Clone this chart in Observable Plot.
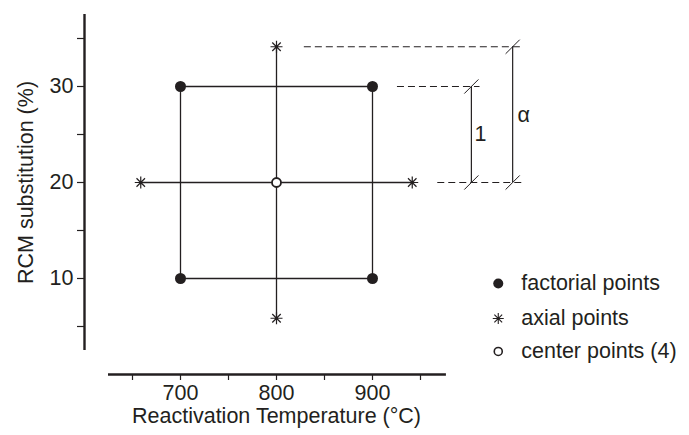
<!DOCTYPE html>
<html>
<head>
<meta charset="utf-8">
<script src="https://cdn.jsdelivr.net/npm/d3@7"></script>
<script src="https://cdn.jsdelivr.net/npm/@observablehq/plot@0.6"></script>
<style>
  html, body { margin: 0; padding: 0; background: #fff; }
  #chart svg { display: block; font-family: "Liberation Sans", Arial, sans-serif; }
</style>
</head>
<body>
<div id="chart"></div>
<script>
// ---- data ----
const factorialX = [700, 700, 900, 900];
const factorialY = [10, 30, 10, 30];
const axialX = [658.6, 941.4, 800, 800];
const axialY = [20, 20, 5.86, 34.14];
const centerX = [800];
const centerY = [20];
const squareX = [700, 900, 900, 700, 700];
const squareY = [10, 10, 30, 30, 10];
const xTicks = [650, 700, 750, 800, 850, 900, 950];
const xTickLabels = [700, 800, 900];
const yTicks = [5, 10, 15, 20, 25, 30, 35];
const yTickLabels = [10, 20, 30];
const dimLabels = ["1", "α"];
const dimFrom = [20, 20];
const dimTo = [30, 34.14];
const legendLabels = ["factorial points", "axial points", "center points (4)"];
const xTitle = "Reactivation Temperature (°C)";
const yTitle = "RCM substitution (%)";

// ---- layout constants ----
const ink = "#231f20";
const dimX = [1003, 1046];
const legendX = 1031;
const legendY = [9.48, 5.83, 2.4];

const pts = (xs, ys) => xs.map((x, i) => ({x, y: ys[i]}));

const asterisk8 = {
  draw(ctx, size) {
    const r = Math.sqrt(size / Math.PI);
    const d = r * Math.SQRT1_2;
    ctx.moveTo(0, -r); ctx.lineTo(0, r);
    ctx.moveTo(-r, 0); ctx.lineTo(r, 0);
    ctx.moveTo(-d, -d); ctx.lineTo(d, d);
    ctx.moveTo(-d, d); ctx.lineTo(d, -d);
  }
};
const slash = {
  draw(ctx, size) {
    const r = Math.sqrt(size / Math.PI);
    const d = r * Math.SQRT1_2;
    ctx.moveTo(-d, d); ctx.lineTo(d, -d);
  }
};

const slashes = [
  {x: dimX[0], y: dimFrom[0]}, {x: dimX[0], y: dimTo[0]},
  {x: dimX[1], y: dimFrom[1]}, {x: dimX[1], y: dimTo[1]}
];

const fs = 21.5;

const chart = Plot.plot({
  width: 689,
  height: 435,
  marginLeft: 84,
  marginRight: 0,
  marginTop: 14,
  marginBottom: 61,
  style: {fontSize: fs + "px", fontFamily: "'Liberation Sans', Arial, sans-serif", color: ink, background: "#fff"},
  x: {domain: [600, 600 + 605 / 0.96]},
  y: {domain: [0, 37.5]},
  marks: [
    // axes
    Plot.axisY({ticks: yTicks, tickSize: 7, tickPadding: 4, tickFormat: d => yTickLabels.includes(d) ? String(d) : "", label: null, stroke: ink, fill: ink, strokeWidth: 1.2}),
    Plot.axisX({ticks: xTicks, tickSize: 6, tickPadding: 4, tickFormat: d => xTickLabels.includes(d) ? String(d) : "", label: null, stroke: ink, fill: ink, strokeWidth: 1.2}),
    Plot.ruleX([600], {y1: 2.5, y2: 37.5, stroke: ink, strokeWidth: 2.4}),
    Plot.ruleY([0], {x1: 625, x2: 977, stroke: ink, strokeWidth: 2.4}),
    Plot.text([xTitle], {frameAnchor: "bottom", x: 800, dy: 48, fill: ink, fontSize: fs, textAnchor: "middle"}),
    Plot.text([yTitle], {frameAnchor: "left", y: 20, dx: -58, rotate: -90, fill: ink, fontSize: fs, textAnchor: "middle"}),
    // design lines
    Plot.line(pts(squareX, squareY), {x: "x", y: "y", stroke: ink, strokeWidth: 1.3}),
    Plot.ruleY([centerY[0]], {x1: axialX[0], x2: axialX[1], stroke: ink, strokeWidth: 1.3}),
    Plot.ruleX([centerX[0]], {y1: axialY[2], y2: axialY[3], stroke: ink, strokeWidth: 1.3}),
    // dimension lines
    Plot.ruleY([axialY[3]], {x1: 829, x2: 1056, stroke: ink, strokeWidth: 1, strokeDasharray: "7,4"}),
    Plot.ruleY([factorialY[1]], {x1: 926, x2: 1012, stroke: ink, strokeWidth: 1, strokeDasharray: "7,4"}),
    Plot.ruleY([centerY[0]], {x1: 968, x2: 1056, stroke: ink, strokeWidth: 1, strokeDasharray: "7,4"}),
    Plot.ruleX(dimX, {x: d => d, y1: (d, i) => dimFrom[i], y2: (d, i) => dimTo[i], stroke: ink, strokeWidth: 1.2}),
    Plot.dot(slashes, {x: "x", y: "y", symbol: slash, r: 10, stroke: ink, strokeWidth: 1, fill: "none"}),
    Plot.text([dimLabels[0]], {x: dimX[0], y: (dimFrom[0] + dimTo[0]) / 2, dx: 9, fill: ink, fontSize: fs, textAnchor: "middle"}),
    Plot.text([dimLabels[1]], {x: dimX[1], y: (dimFrom[1] + dimTo[1]) / 2, dx: 11, fill: ink, fontSize: fs, textAnchor: "middle"}),
    // points
    Plot.dot(pts(factorialX, factorialY), {x: "x", y: "y", r: 5.5, fill: ink, stroke: "none"}),
    Plot.dot(pts(axialX, axialY), {x: "x", y: "y", r: 6, symbol: asterisk8, stroke: ink, strokeWidth: 1.2, fill: "none"}),
    Plot.dot(pts(centerX, centerY), {x: "x", y: "y", r: 4.5, fill: "#fff", stroke: ink, strokeWidth: 1.8}),
    // legend
    Plot.dot([0], {x: legendX, y: legendY[0], r: 5, fill: ink}),
    Plot.dot([0], {x: legendX, y: legendY[1], r: 5.5, symbol: asterisk8, stroke: ink, strokeWidth: 1.1, fill: "none"}),
    Plot.dot([0], {x: legendX, y: legendY[2], r: 4, fill: "#fff", stroke: ink, strokeWidth: 1.6}),
    Plot.text(legendLabels, {x: legendX, y: (d, i) => legendY[i], dx: 23, text: d => d, textAnchor: "start", fill: ink, fontSize: fs})
  ]
});
document.getElementById("chart").append(chart);
</script>
</body>
</html>
